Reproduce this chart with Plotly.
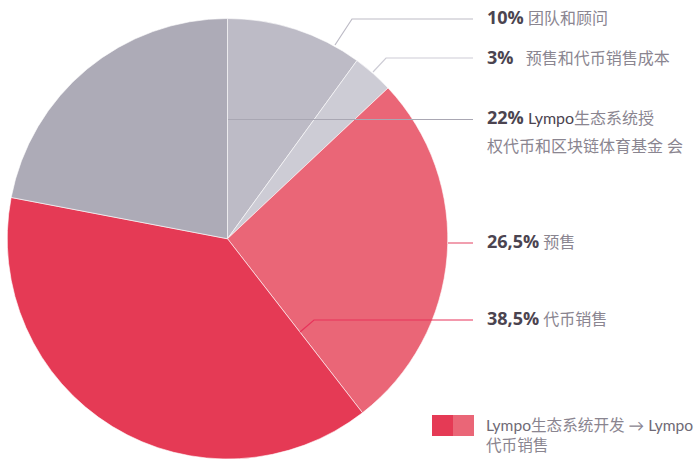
import plotly.graph_objects as go

# data
labels = ["团队和顾问", "预售和代币销售成本", "预售", "代币销售", "Lympo生态系统授权代币和区块链体育基金 会"]
values = [10, 3, 26.5, 38.5, 22]
pct_text = ["10%", "3%", "26,5%", "38,5%", "22%"]
colors = ["#bdbbc6", "#cdccd5", "#ea6677", "#e53a55", "#adabb7"]

W, H = 696, 459

fig = go.Figure()
fig.add_trace(go.Pie(
    labels=labels, values=values, sort=False, direction="clockwise", rotation=0,
    marker=dict(colors=colors, line=dict(color="white", width=0.6)),
    textinfo="none", hoverinfo="label+percent", showlegend=False,
    domain=dict(x=[7/W, 448/W], y=[0, 1 - 18.5/H]),
))

def px(x):
    return x / W

def py(y):
    return 1 - y / H

line_specs = [
    ([(335, 45), (352, 19), (473, 19)], "#bdbbc6"),
    ([(373, 72), (386, 58), (473, 58)], "#cdccd5"),
    ([(228, 119.5), (473, 119.5)], "#a9a7b3"),
    ([(448, 243), (473, 243)], "#e8607a"),
    ([(300, 332), (314, 320), (473, 320)], "#e8325a"),
]
shapes = []
for pts, col in line_specs:
    path = "M " + " L ".join(f"{px(x)},{py(y)}" for x, y in pts)
    shapes.append(dict(type="path", path=path, xref="paper", yref="paper",
                       line=dict(color=col, width=1.2)))

# legend swatch
shapes.append(dict(type="rect", xref="paper", yref="paper",
                   x0=px(432), x1=px(453), y0=py(436), y1=py(415),
                   fillcolor="#e53a55", line=dict(width=0)))
shapes.append(dict(type="rect", xref="paper", yref="paper",
                   x0=px(453), x1=px(474), y0=py(436), y1=py(415),
                   fillcolor="#ea6677", line=dict(width=0)))

NUM = "#4b4450"
TXT = "#8a8590"
FONT = "Lato, 'Noto Sans CJK SC', sans-serif"
NFONT = "'Open Sans', sans-serif"

def num(t):
    return f"<b><span style=\"color:{NUM};font-size:18px;font-family:{NFONT}\">{t}</span></b>"

def lab(n, rest):
    return f"{num(n)} <span style='color:{TXT}'>{rest}</span>"

ann = [
    (485, 17, lab("10%", "团队和顾问"), 16),
    (485, 57, lab("3%", "&nbsp;&nbsp;预售和代币销售成本"), 16),
    (485, 117, f"{num('22%')} <span style='color:{NUM}'>Lympo</span><span style='color:{TXT}'>生态系统授</span>", 16),
    (485, 145, f"<span style='color:{TXT}'>权代币和区块链体育基金 会</span>", 16),
    (485, 241, lab("26,5%", "预售"), 16),
    (485, 318, lab("38,5%", "代币销售"), 16),
    (484, 425, f"<span style='color:#6f6a76'>Lympo</span><span style='color:{TXT}'>生态系统开发 → </span><span style='color:#6f6a76'>Lympo</span>", 15.6),
    (484, 445, f"<span style='color:{TXT}'>代币销售</span>", 15.6),
]
annotations = []
for x, y, t, s in ann:
    annotations.append(dict(x=px(x), y=py(y), xref="paper", yref="paper",
                            xanchor="left", yanchor="middle", showarrow=False,
                            text=t, font=dict(family=FONT, size=s, color=TXT)))

fig.update_layout(
    width=W, height=H, margin=dict(l=0, r=0, t=0, b=0),
    paper_bgcolor="white", plot_bgcolor="white",
    shapes=shapes, annotations=annotations,
)
fig.write_html("out.html", config={"displayModeBar": False},
               post_script="document.body.style.margin='0';document.body.style.overflow='hidden';")
